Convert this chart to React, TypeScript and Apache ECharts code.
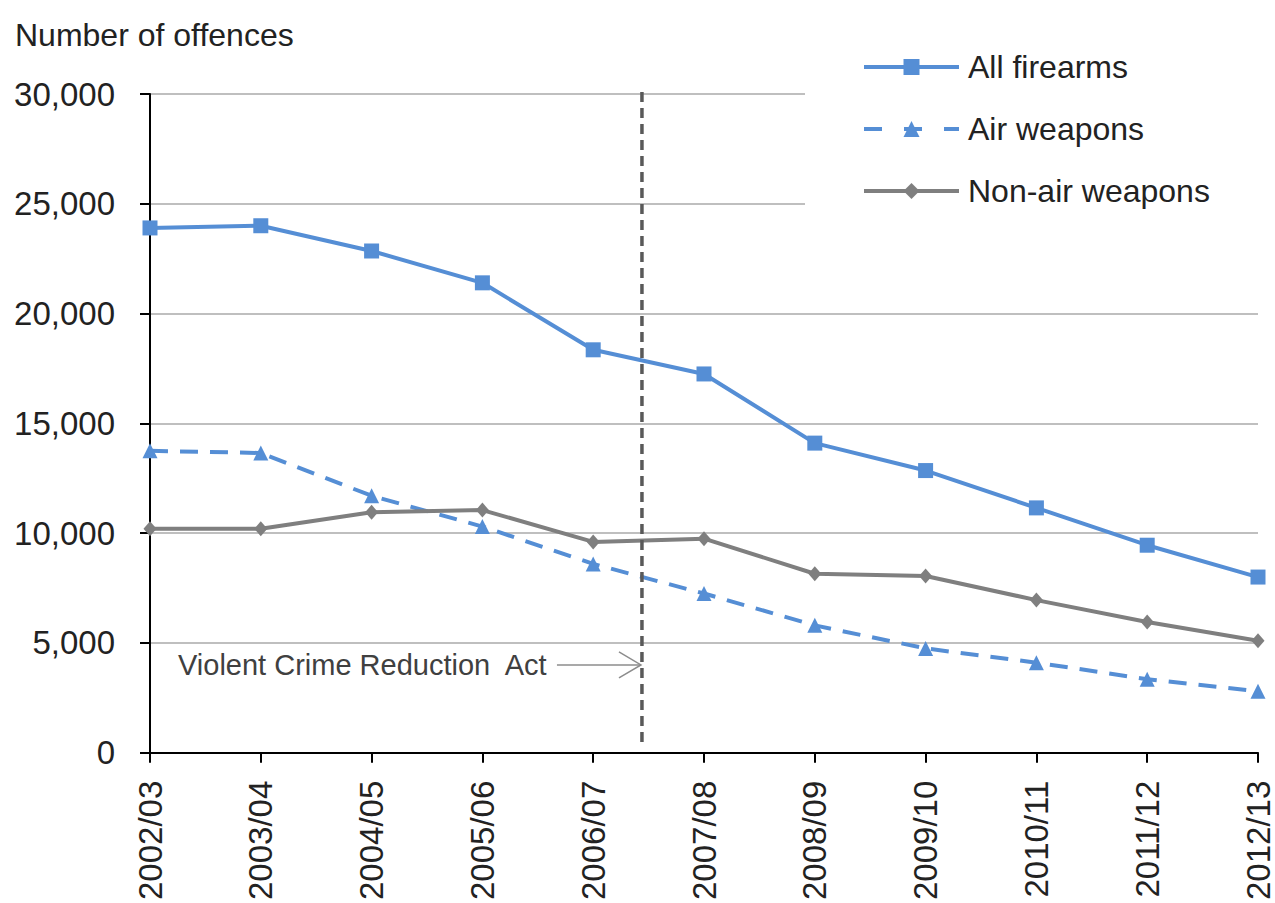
import React, { useEffect, useRef } from "react";
import * as echarts from "echarts";

const categories = [
  "2002/03", "2003/04", "2004/05", "2005/06", "2006/07", "2007/08",
  "2008/09", "2009/10", "2010/11", "2011/12", "2012/13",
];
const allFirearms = [23900, 24000, 22850, 21400, 18350, 17250, 14100, 12850, 11150, 9450, 8000];
const airWeapons = [13750, 13650, 11700, 10300, 8600, 7250, 5800, 4750, 4100, 3350, 2800];
const nonAirWeapons = [10200, 10200, 10950, 11050, 9600, 9750, 8150, 8050, 6950, 5950, 5100];
const yMin = 0;
const yMax = 30000;
const yInterval = 5000;
const actPosition = 4.44; // fractional category index where the Act line sits
const annotationText = "Violent Crime Reduction  Act";
const annotationValue = 4000;

export default function App() {
  const ref = useRef<HTMLDivElement>(null);

  useEffect(() => {
    const chart = echarts.init(ref.current!, null, { renderer: "svg" });
    const font = "'Liberation Sans', Arial, sans-serif";
    const blue = "#558ED5";
    const grey = "#7F7F7F";
    const textColor = "#222222";

    chart.setOption({
      animation: false,
      backgroundColor: "#ffffff",
      title: {
        text: "Number of offences",
        left: 10,
        top: 14,
        textStyle: { fontFamily: font, fontSize: 32, fontWeight: "normal", color: textColor },
      },
      grid: { left: 150, right: 17, top: 94, bottom: 149, containLabel: false },
      legend: {
        orient: "vertical",
        left: 805,
        top: 30,
        padding: [21, 90, 20, 57],
        backgroundColor: "#ffffff",
        itemWidth: 95,
        itemHeight: 20,
        itemGap: 30,
        textStyle: { fontFamily: font, fontSize: 32, color: textColor, lineHeight: 32, padding: [0, 0, 0, 4] },
        data: [
          { name: "All firearms", lineStyle: { width: 4, color: blue } },
          { name: "Air weapons", lineStyle: { width: 4, color: blue, type: [18, 22] } },
          { name: "Non-air weapons", lineStyle: { width: 4, color: grey } },
        ],
      },
      xAxis: {
        type: "category",
        data: categories,
        boundaryGap: false,
        axisLine: { lineStyle: { color: "#000000", width: 2 } },
        axisTick: { show: true, length: 10, interval: 0, lineStyle: { color: "#000000", width: 2 } },
        axisLabel: {
          rotate: 90,
          interval: 0,
          margin: 28,
          fontSize: 33,
          fontFamily: font,
          color: textColor,
        },
        splitLine: { show: false },
      },
      yAxis: {
        type: "value",
        min: yMin,
        max: yMax,
        interval: yInterval,
        axisLine: { show: true, lineStyle: { color: "#000000", width: 2 } },
        axisTick: { show: true, length: 10, lineStyle: { color: "#000000", width: 2 } },
        axisLabel: {
          margin: 35,
          fontSize: 33,
          fontFamily: font,
          color: textColor,
          formatter: (v: number) => v.toLocaleString("en-US"),
        },
        splitLine: { lineStyle: { color: "#BFBFBF", width: 2 } },
      },
      series: [
        {
          name: "All firearms",
          type: "line",
          data: allFirearms,
          symbol: "rect",
          symbolSize: 15,
          showAllSymbol: true,
          lineStyle: { color: blue, width: 4 },
          itemStyle: { color: blue },
          z: 4,
        },
        {
          name: "Air weapons",
          type: "line",
          data: airWeapons,
          symbol: "triangle",
          symbolSize: 15,
          showAllSymbol: true,
          lineStyle: { color: blue, width: 4, type: [18, 12] },
          itemStyle: { color: blue },
          z: 3,
        },
        {
          name: "Non-air weapons",
          type: "line",
          data: nonAirWeapons,
          symbol: "diamond",
          symbolSize: [13, 15],
          showAllSymbol: true,
          lineStyle: { color: grey, width: 4 },
          itemStyle: { color: grey },
          z: 3,
        },
      ],
    });

    // Annotation positioned through the chart's own scales
    const i0 = Math.floor(actPosition);
    const frac = actPosition - i0;
    const pA = chart.convertToPixel({ gridIndex: 0 }, [i0, yMax]) as number[];
    const pB = chart.convertToPixel({ gridIndex: 0 }, [i0 + 1, yMin]) as number[];
    const lx = pA[0] + (pB[0] - pA[0]) * frac;
    const yTop = pA[1] - 2;
    const yBottom = pB[1] - 8;
    const arrowY = (chart.convertToPixel({ gridIndex: 0 }, [0, annotationValue]) as number[])[1];
    const gridLeft = (chart.convertToPixel({ gridIndex: 0 }, [0, 0]) as number[])[0];

    chart.setOption({
      graphic: [
        {
          type: "line",
          shape: { x1: lx, y1: yTop, x2: lx, y2: yBottom },
          style: { stroke: "#595959", lineWidth: 3.5, lineDash: [10, 6] },
          z: 10,
        },
        {
          type: "text",
          x: gridLeft + 28,
          y: arrowY,
          style: {
            text: annotationText,
            font: `29px ${font}`,
            fill: "#404040",
            verticalAlign: "middle",
            textAlign: "left",
          },
          z: 10,
        },
        {
          type: "line",
          shape: { x1: lx - 85, y1: arrowY, x2: lx - 1, y2: arrowY },
          style: { stroke: "#8C8C8C", lineWidth: 1.5 },
          z: 10,
        },
        {
          type: "polyline",
          shape: { points: [[lx - 23, arrowY - 13], [lx - 1, arrowY], [lx - 23, arrowY + 13]] },
          style: { stroke: "#8C8C8C", lineWidth: 1.5, fill: "none" },
          z: 10,
        },
      ],
    });

    return () => chart.dispose();
  }, []);

  return (
    <div
      ref={ref}
      style={{ position: "fixed", left: 0, top: 0, width: 1275, height: 903, background: "#fff" }}
    />
  );
}
